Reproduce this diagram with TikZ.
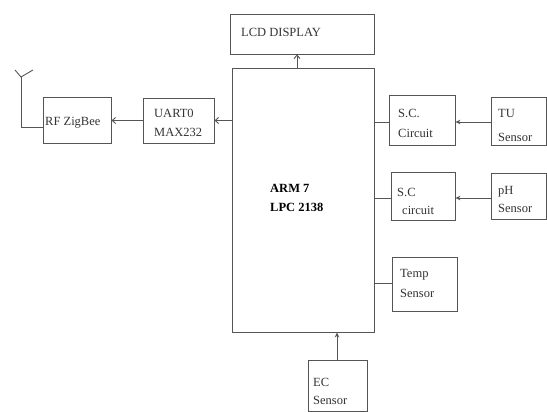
\documentclass[tikz,border=0pt]{standalone}
\usepackage{fontspec}
\setmainfont{Liberation Serif}
\usetikzlibrary{arrows.meta}
\definecolor{linec}{HTML}{555555}
\definecolor{textc}{HTML}{333333}
\tikzset{
  blk/.style={draw=linec, line width=0.9pt, rectangle, inner sep=0pt},
  lbl/.style={anchor=base west, inner sep=0pt, text=textc, font=\fontsize{12.5}{14}\selectfont},
  boldlbl/.style={lbl, font=\fontsize{12.5}{14}\selectfont\bfseries, text=black},
  wire/.style={draw=linec, line width=0.9pt},
  openarr/.style={wire, -{Straight Barb[length=3.5pt,width=6pt]}},
  fillarr/.style={wire, -{Stealth[length=5pt,width=4.5pt]}},
}
\begin{document}
\begin{tikzpicture}[x=1pt,y=-1pt]
\useasboundingbox (0,0) rectangle (547,412);
% boxes
\node[blk, minimum width=144pt, minimum height=40pt] (lcd) at (302,34) {};
\node[blk, minimum width=142pt, minimum height=264pt] (arm) at (303,200) {};
\node[blk, minimum width=71pt, minimum height=45pt] (uart) at (178.5,120.5) {};
\node[blk, minimum width=68pt, minimum height=46pt] (rf) at (77,120) {};
\node[blk, minimum width=66pt, minimum height=50pt] (sc1) at (422,120) {};
\node[blk, minimum width=55pt, minimum height=48pt] (tu) at (518.5,121) {};
\node[blk, minimum width=64pt, minimum height=48pt] (sc2) at (423,196) {};
\node[blk, minimum width=55pt, minimum height=46pt] (ph) at (518.5,196) {};
\node[blk, minimum width=65pt, minimum height=54pt] (temp) at (424.5,284) {};
\node[blk, minimum width=59pt, minimum height=51pt] (ec) at (337.5,385.5) {};
% labels
\node[lbl] (tlcd) at (241,36.5) {LCD DISPLAY};
\node[boldlbl] (tarm1) at (270,192.5) {ARM 7};
\node[boldlbl] (tarm2) at (270,211.5) {LPC 2138};
\node[lbl] (tuart1) at (154,117.5) {UART0};
\node[lbl] (tuart2) at (154,136.5) {MAX232};
\node[lbl] (trf) at (45,125.5) {RF ZigBee};
\node[lbl] (tsc1a) at (398,117.5) {S.C.};
\node[lbl] (tsc1b) at (398,137.5) {Circuit};
\node[lbl] (ttu1) at (498,117.5) {TU};
\node[lbl] (ttu2) at (498,141.5) {Sensor};
\node[lbl] (tsc2a) at (397,196.5) {S.C};
\node[lbl] (tsc2b) at (402,214.5) {circuit};
\node[lbl] (tph1) at (498,194.5) {pH};
\node[lbl] (tph2) at (498,212.5) {Sensor};
\node[lbl] (ttemp1) at (400,277.5) {Temp};
\node[lbl] (ttemp2) at (400,297.5) {Sensor};
\node[lbl] (tec1) at (313,386.5) {EC};
\node[lbl] (tec2) at (313,404.5) {Sensor};
% helper coordinates
\coordinate (xlcd) at (297,0);
\coordinate (xec) at (337,0);
\coordinate (y1) at (0,122);
\coordinate (y2) at (0,198);
\coordinate (y3) at (0,283);
\coordinate (yant) at (0,127);
\coordinate (antbase) at (21,127);
\coordinate (antv) at (21,77);
\coordinate (antl) at (15,70);
\coordinate (antr) at (33,70);
% connectors
\draw[openarr] (arm.north -| xlcd) -- (lcd.south -| xlcd);
\draw[openarr] (uart.east -| arm.west) -- (uart.east);
\draw[openarr] (uart.west) -- (uart.west -| rf.east);
\draw[wire] (rf.west |- yant) -- (antbase) -- (antv);
\draw[wire] (antl) -- (antv) -- (antr);
\draw[wire] (arm.east |- y1) -- (sc1.west |- y1);
\draw[fillarr] (tu.west |- y1) -- (sc1.east |- y1);
\draw[wire] (arm.east |- y2) -- (sc2.west |- y2);
\draw[fillarr] (ph.west |- y2) -- (sc2.east |- y2);
\draw[wire] (arm.east |- y3) -- (temp.west |- y3);
\draw[fillarr] (ec.north -| xec) -- (arm.south -| xec);
\end{tikzpicture}
\end{document}
